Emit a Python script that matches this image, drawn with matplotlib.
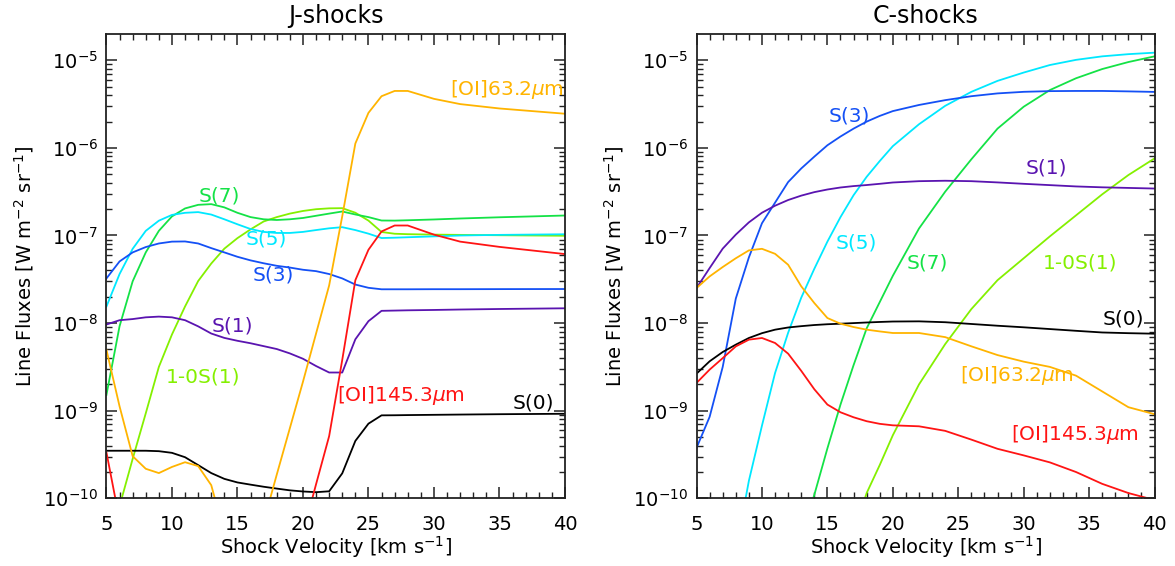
import numpy as np
import matplotlib
matplotlib.use('Agg')
import matplotlib.pyplot as plt
from matplotlib.ticker import MultipleLocator, LogLocator, NullFormatter

nan = np.nan

# ---- J-shocks : log10 line flux [W m-2 sr-1] vs shock velocity [km/s]
v_j = [5, 6, 7, 8, 9, 10, 11, 12, 13, 14, 15, 16, 17, 18, 19, 20, 21, 22, 23, 24, 25, 26, 27, 28, 30, 32, 35, 40]
j_s0 = [-9.457, -9.457, -9.457, -9.457, -9.462, -9.481, -9.531, -9.621, -9.712, -9.778, -9.819, -9.844, -9.868, -9.889,
        -9.909, -9.922, -9.930, -9.920, -9.715, -9.345, -9.148, -9.053, -9.052, -9.050, -9.047, -9.044, -9.040, -9.035]
j_s1 = [-8.016, -7.967, -7.954, -7.934, -7.926, -7.934, -7.967, -8.037, -8.119, -8.169, -8.202, -8.230, -8.263, -8.296,
        -8.346, -8.407, -8.490, -8.564, -8.564, -8.185, -7.978, -7.860, -7.857, -7.854, -7.850, -7.845, -7.839, -7.831]
j_s3 = [-7.490, -7.296, -7.193, -7.132, -7.091, -7.070, -7.068, -7.091, -7.144, -7.193, -7.243, -7.284, -7.317, -7.346,
        -7.366, -7.391, -7.407, -7.440, -7.490, -7.560, -7.597, -7.614, -7.614, -7.614, -7.613, -7.613, -7.612, -7.611]
j_s5 = [-7.811, -7.440, -7.152, -6.947, -6.831, -6.765, -6.741, -6.733, -6.761, -6.815, -6.872, -6.926, -6.959, -6.971,
        -6.971, -6.959, -6.938, -6.918, -6.905, -6.938, -6.979, -7.029, -7.025, -7.020, -7.010, -7.000, -6.993, -6.986]
j_s7 = [-8.819, -8.036, -7.523, -7.193, -6.947, -6.782, -6.691, -6.650, -6.642, -6.679, -6.741, -6.790, -6.815, -6.823,
        -6.815, -6.800, -6.775, -6.750, -6.726, -6.760, -6.790, -6.829, -6.830, -6.826, -6.817, -6.806, -6.792, -6.772]
j_10s1 = [-10.60, -10.09, -9.55, -9.03, -8.50, -8.13, -7.81, -7.52, -7.32, -7.15, -7.03, -6.93, -6.84, -6.79,
          -6.75, -6.72, -6.70, -6.69, -6.688, -6.74, -6.83, -6.96, -6.98, -6.985, -6.99, -6.993, -6.997, -7.003]
j_oi63 = [-8.305, -8.95, -9.519, -9.663, -9.712, -9.642, -9.588, -9.632, -9.85, -10.4, nan, nan, -10.27, -9.73,
          -9.20, -8.67, -8.12, -7.57, -6.78, -5.95, -5.60, -5.41, -5.35, -5.35, -5.44, -5.50, -5.55, -5.61]
j_oi145 = [-9.477, -10.25, nan, nan, nan, nan, nan, nan, nan, nan, nan, nan, nan, nan,
           nan, -10.4, -9.84, -9.29, -8.42, -7.51, -7.163, -6.954, -6.886, -6.886, -6.99, -7.07, -7.13, -7.212]

# ---- C-shocks
v_c = [5, 6, 7, 8, 9, 10, 11, 12, 13, 14, 15, 16, 17, 18, 19, 20, 22, 24, 26, 28, 30, 32, 34, 36, 38, 40]
c_s0 = [-8.577, -8.436, -8.330, -8.246, -8.170, -8.115, -8.075, -8.050, -8.035, -8.022, -8.013, -8.007, -8.000,
        -7.993, -7.987, -7.982, -7.980, -7.990, -8.010, -8.030, -8.048, -8.068, -8.088, -8.107, -8.115, -8.121]
c_s1 = [-7.600, -7.372, -7.150, -6.990, -6.850, -6.740, -6.660, -6.595, -6.545, -6.505, -6.475, -6.452, -6.436,
        -6.424, -6.410, -6.395, -6.380, -6.375, -6.380, -6.394, -6.410, -6.425, -6.440, -6.450, -6.457, -6.464]
c_s3 = [-9.424, -9.070, -8.500, -7.720, -7.250, -6.860, -6.625, -6.390, -6.235, -6.100, -5.970, -5.870, -5.780,
        -5.700, -5.635, -5.580, -5.510, -5.455, -5.410, -5.378, -5.360, -5.352, -5.350, -5.350, -5.355, -5.361]
c_s5 = [nan, nan, nan, -10.6, -9.80, -9.17, -8.57, -8.11, -7.71, -7.38, -7.07, -6.79, -6.54,
        -6.33, -6.15, -5.98, -5.73, -5.52, -5.36, -5.235, -5.14, -5.054, -4.995, -4.955, -4.930, -4.913]
c_s7 = [nan, nan, nan, nan, nan, nan, nan, nan, -10.45, -9.96, -9.43, -8.93, -8.48,
        -8.06, -7.76, -7.46, -6.92, -6.50, -6.13, -5.78, -5.53, -5.34, -5.205, -5.10, -5.02, -4.955]
c_10s1 = [nan, nan, nan, nan, nan, nan, nan, nan, nan, nan, nan, nan, -10.4,
          -9.94, -9.62, -9.28, -8.70, -8.24, -7.84, -7.51, -7.26, -7.01, -6.77, -6.53, -6.31, -6.12]
c_oi63 = [-7.600, -7.467, -7.360, -7.260, -7.170, -7.152, -7.209, -7.334, -7.580, -7.771, -7.942, -8.007, -8.045,
          -8.075, -8.095, -8.113, -8.113, -8.160, -8.265, -8.365, -8.440, -8.500, -8.600, -8.780, -8.960, -9.040]
c_oi145 = [-8.683, -8.531, -8.400, -8.266, -8.189, -8.170, -8.227, -8.349, -8.545, -8.755, -8.930, -9.018, -9.075,
           -9.120, -9.150, -9.167, -9.178, -9.230, -9.330, -9.435, -9.510, -9.590, -9.700, -9.835, -9.940, -10.020]

col = {'s0': 'black', 's1': '#5a14b0', 's3': '#1450f5', 's5': '#00e8ff', 's7': '#14e246',
       '10s1': '#84f000', 'oi63': '#ffb400', 'oi145': '#ff1414'}

FS = 14

def setup(ax, title):
    ax.set_yscale('log')
    ax.set_xlim(5, 40)
    ax.set_ylim(1e-10, 1.98e-5)
    ax.xaxis.set_major_locator(MultipleLocator(5))
    ax.xaxis.set_minor_locator(MultipleLocator(1))
    ax.yaxis.set_major_locator(LogLocator(base=10, numticks=20))
    ax.yaxis.set_minor_locator(LogLocator(base=10, subs=np.arange(2, 10), numticks=20))
    ax.yaxis.set_minor_formatter(NullFormatter())
    ax.xaxis.offsetText.set_visible(False)
    ax.yaxis.offsetText.set_visible(False)
    ax.tick_params(which='both', direction='in', top=True, right=True, labelsize=FS, color='#222222')
    ax.tick_params(which='major', length=8, width=1.1)
    ax.tick_params(which='minor', length=4, width=1.0)
    ax.tick_params(axis='x', pad=12)
    ax.tick_params(axis='y', pad=6)
    for s in ax.spines.values():
        s.set_linewidth(1.3)
        s.set_color('#222222')
    ax.set_title(title, fontsize=17, pad=8)
    ax.set_xlabel('Shock Velocity [km s$^{-1}$]', fontsize=FS, labelpad=0)
    ax.set_ylabel('Line Fluxes [W m$^{-2}$ sr$^{-1}$]', fontsize=FS, labelpad=5)

def draw(ax, v, series):
    for key, logf in series:
        ax.plot(v, 10 ** np.array(logf), color=col[key], lw=1.3)

fig = plt.figure(figsize=(11.75, 5.66), dpi=100)
ax1 = fig.add_axes([0.0906, 0.1196, 0.3902, 0.8198])
ax2 = fig.add_axes([0.5928, 0.1196, 0.3898, 0.8198])

draw(ax1, v_j, [('10s1', j_10s1), ('s7', j_s7), ('s5', j_s5), ('s3', j_s3), ('s1', j_s1),
                ('s0', j_s0), ('oi63', j_oi63), ('oi145', j_oi145)])
draw(ax2, v_c, [('10s1', c_10s1), ('s7', c_s7), ('s5', c_s5), ('s3', c_s3), ('s1', c_s1),
                ('s0', c_s0), ('oi63', c_oi63), ('oi145', c_oi145)])
setup(ax1, 'J-shocks')
setup(ax2, 'C-shocks')

# line labels: (text, key, velocity, log10 flux, ha)
lab_j = [('S(7)', 's7', 13.6, -6.55, 'center'), ('S(5)', 's5', 17.2, -7.04, 'center'),
         ('S(3)', 's3', 17.7, -7.45, 'center'), ('S(1)', 's1', 14.6, -8.03, 'center'),
         ('1-0S(1)', '10s1', 12.4, -8.62, 'center'), ('[OI]145.3$\\mu$m', 'oi145', 27.5, -8.83, 'center'),
         ('S(0)', 's0', 37.6, -8.91, 'center'), ('[OI]63.2$\\mu$m', 'oi63', 39.9, -5.33, 'right')]
lab_c = [('S(3)', 's3', 16.65, -5.64, 'center'), ('S(1)', 's1', 31.7, -6.23, 'center'),
         ('S(5)', 's5', 17.2, -7.08, 'center'), ('S(7)', 's7', 22.65, -7.31, 'center'),
         ('1-0S(1)', '10s1', 34.3, -7.31, 'center'), ('S(0)', 's0', 37.6, -7.95, 'center'),
         ('[OI]63.2$\\mu$m', 'oi63', 29.5, -8.60, 'center'), ('[OI]145.3$\\mu$m', 'oi145', 33.9, -9.27, 'center')]
for ax, labs in ((ax1, lab_j), (ax2, lab_c)):
    for txt, key, x, ly, ha in labs:
        ax.text(x, 10 ** ly, txt, color=col[key], fontsize=14.5, ha=ha, va='center')

fig.savefig('out.png', dpi=100)
